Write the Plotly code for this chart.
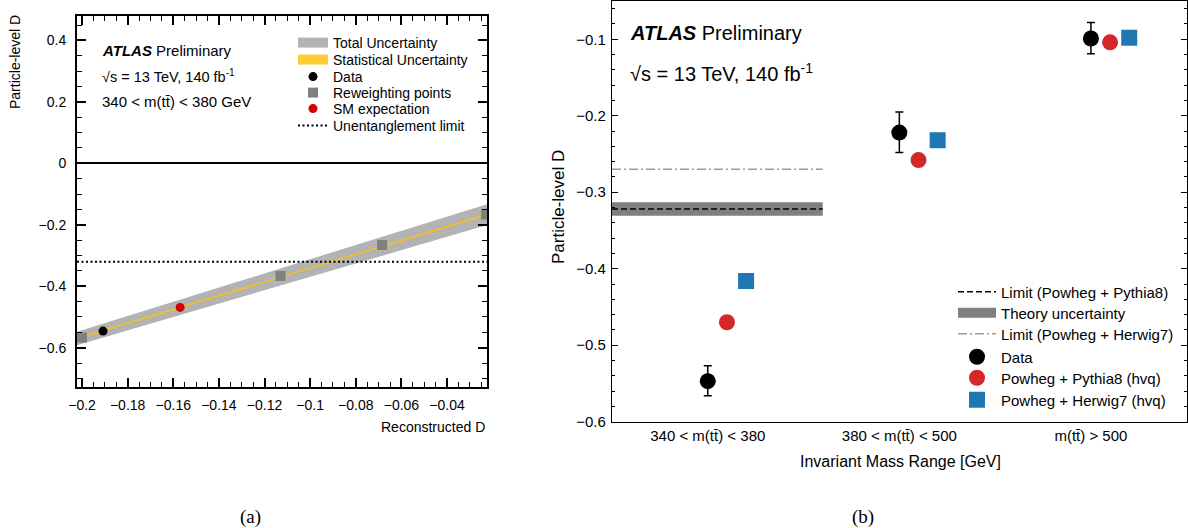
import plotly.graph_objects as go

W, H = 1188, 528

# ---------------- Data: panel (a) ----------------
rew_x = [-0.2, -0.113, -0.0685, -0.0229]
rew_y = [-0.567, -0.367, -0.266, -0.167]
data_a_x = [-0.1908]
data_a_y = [-0.546]
sm_x = [-0.157]
sm_y = [-0.469]
band_x = [-0.2022, -0.0225]
band_total_lo = [-0.592, -0.201]
band_total_hi = [-0.548, -0.133]
band_stat_lo = [-0.5725, -0.1695]
band_stat_hi = [-0.5675, -0.1645]
unent_limit = -0.32
xa_range = [-0.2022, -0.0225]
ya_range = [-0.729, 0.481]
xa_ticks = [-0.2, -0.18, -0.16, -0.14, -0.12, -0.1, -0.08, -0.06, -0.04]
xa_ticktext = ["\u22120.2", "\u22120.18", "\u22120.16", "\u22120.14", "\u22120.12",
               "\u22120.1", "\u22120.08", "\u22120.06", "\u22120.04"]
ya_ticks = [-0.6, -0.4, -0.2, 0, 0.2, 0.4]
ya_ticktext = ["\u22120.6", "\u22120.4", "\u22120.2", "0", "0.2", "0.4"]

# ---------------- Data: panel (b) ----------------
categories = ["340 < m(t\u0074\u0304) < 380", "380 < m(t\u0074\u0304) < 500", "m(t\u0074\u0304) > 500"]
cat_pos = [0, 1, 2]
data_b = [-0.547, -0.222, -0.099]
data_b_err_up = [0.020, 0.027, 0.021]
data_b_err_dn = [0.019, 0.026, 0.020]
pythia_b = [-0.470, -0.258, -0.104]
herwig_b = [-0.416, -0.232, -0.098]
limit_pythia = -0.322
theory_unc = 0.0088
limit_herwig = -0.270
limit_x = [-0.5, 0.6]
yb_range = [-0.6, -0.05]
yb_ticks = [-0.6, -0.5, -0.4, -0.3, -0.2, -0.1]
yb_ticktext = ["\u22120.6", "\u22120.5", "\u22120.4", "\u22120.3", "\u22120.2", "\u22120.1"]

FONT = "Liberation Sans"

def px(x):
    return x / W

def py(y):
    return 1 - y / H

fig = go.Figure()

# ---------- panel (a) traces ----------
fig.add_trace(go.Scatter(
    x=band_x + band_x[::-1], y=band_total_lo + band_total_hi[::-1],
    fill="toself", fillcolor="#b3b3b3", line=dict(width=0), mode="lines",
    showlegend=False, hoverinfo="skip", xaxis="x", yaxis="y"))
fig.add_trace(go.Scatter(
    x=band_x + band_x[::-1], y=band_stat_lo + band_stat_hi[::-1],
    fill="toself", fillcolor="#f5c21b", line=dict(width=0), mode="lines",
    showlegend=False, hoverinfo="skip", xaxis="x", yaxis="y"))
fig.add_trace(go.Scatter(
    x=xa_range, y=[unent_limit, unent_limit], mode="lines",
    line=dict(color="black", width=2, dash="2px,2.5px"),
    name="Unentanglement limit", legend="legend6", xaxis="x", yaxis="y"))
fig.add_trace(go.Scatter(
    x=rew_x, y=rew_y, mode="markers",
    marker=dict(symbol="square", size=10, color="#808080"),
    name="Reweighting points", legend="legend4", xaxis="x", yaxis="y"))
fig.add_trace(go.Scatter(
    x=data_a_x, y=data_a_y, mode="markers",
    marker=dict(symbol="circle", size=9, color="black"),
    name="Data", legend="legend3", xaxis="x", yaxis="y"))
fig.add_trace(go.Scatter(
    x=sm_x, y=sm_y, mode="markers",
    marker=dict(symbol="circle", size=9, color="#d40000"),
    name="SM expectation", legend="legend5", xaxis="x", yaxis="y"))
# legend proxies for bands
fig.add_trace(go.Scatter(
    x=[None], y=[None], mode="lines", line=dict(color="#b3b3b3", width=12),
    name="Total Uncertainty", legend="legend", xaxis="x", yaxis="y"))
fig.add_trace(go.Scatter(
    x=[None], y=[None], mode="lines", line=dict(color="#ffcc33", width=12),
    name="Statistical Uncertainty", legend="legend2", xaxis="x", yaxis="y"))

# ---------- panel (b) traces ----------
fig.add_trace(go.Scatter(
    x=limit_x + limit_x[::-1],
    y=[limit_pythia - theory_unc] * 2 + [limit_pythia + theory_unc] * 2,
    fill="toself", fillcolor="#808080", line=dict(width=0), mode="lines",
    showlegend=False, hoverinfo="skip", xaxis="x2", yaxis="y2"))
fig.add_trace(go.Scatter(
    x=limit_x, y=[limit_pythia, limit_pythia], mode="lines",
    line=dict(color="black", width=1.5, dash="6px,3px"),
    name="Limit (Powheg + Pythia8)", legend="legend7", xaxis="x2", yaxis="y2"))
fig.add_trace(go.Scatter(
    x=[None], y=[None], mode="lines", line=dict(color="#808080", width=11),
    name="Theory uncertainty", legend="legend8", xaxis="x2", yaxis="y2"))
fig.add_trace(go.Scatter(
    x=limit_x, y=[limit_herwig, limit_herwig], mode="lines",
    line=dict(color="#999999", width=1.5, dash="9px,3px,2px,3px"),
    name="Limit (Powheg + Herwig7)", legend="legend9", xaxis="x2", yaxis="y2"))
fig.add_trace(go.Scatter(
    x=cat_pos, y=data_b, mode="markers",
    marker=dict(symbol="circle", size=16, color="black"),
    error_y=dict(type="data", array=data_b_err_up, arrayminus=data_b_err_dn,
                 color="black", thickness=1.5, width=4),
    name="Data", legend="legend10", xaxis="x2", yaxis="y2"))
fig.add_trace(go.Scatter(
    x=[c + 0.1 for c in cat_pos], y=pythia_b, mode="markers",
    marker=dict(symbol="circle", size=16, color="#d62728"),
    name="Powheg + Pythia8 (hvq)", legend="legend11", xaxis="x2", yaxis="y2"))
fig.add_trace(go.Scatter(
    x=[c + 0.2 for c in cat_pos], y=herwig_b, mode="markers",
    marker=dict(symbol="square", size=16, color="#1f77b4"),
    name="Powheg + Herwig7 (hvq)", legend="legend12", xaxis="x2", yaxis="y2"))

# ---------- legends (one per row for exact spacing) ----------
legends = {}
left_rows = [43, 60, 77, 93, 109, 126]
for i, yy in enumerate(left_rows):
    key = "legend" if i == 0 else f"legend{i+1}"
    legends[key] = dict(x=px(293), y=py(yy), xanchor="left", yanchor="middle",
                        bgcolor="rgba(0,0,0,0)", borderwidth=0,
                        font=dict(family=FONT, size=14, color="black"),
                        itemwidth=30, traceorder="normal")
right_rows = [292, 313, 334, 357, 378, 400]
for i, yy in enumerate(right_rows):
    key = f"legend{i+7}"
    legends[key] = dict(x=px(953), y=py(yy), xanchor="left", yanchor="middle",
                        bgcolor="rgba(0,0,0,0)", borderwidth=0,
                        font=dict(family=FONT, size=15, color="black"),
                        itemwidth=38, traceorder="normal")

axis_common = dict(showline=True, linecolor="black", mirror="allticks",
                   showgrid=False, ticks="inside", tickcolor="black",
                   automargin=False)

fig.update_layout(
    template="none",
    width=W, height=H,
    margin=dict(l=0, r=0, t=0, b=0, pad=0, autoexpand=False),
    paper_bgcolor="white", plot_bgcolor="white",
    font=dict(family=FONT, color="black"),
    showlegend=True,
    xaxis=dict(domain=[px(77), px(487)], range=xa_range, anchor="y",
               tickmode="array", tickvals=xa_ticks, ticktext=xa_ticktext,
               ticklen=9, tickwidth=1.5, linewidth=2, zeroline=False,
               ticklabelstandoff=4,
               tickfont=dict(size=14, family=FONT, color="black"),
               minor=dict(dtick=0.005, tick0=0, ticks="inside", ticklen=5,
                          tickwidth=1, tickcolor="black", showgrid=False),
               **axis_common),
    yaxis=dict(domain=[py(387.3), py(15.5)], range=ya_range, anchor="x",
               tickmode="array", tickvals=ya_ticks, ticktext=ya_ticktext,
               ticklen=9, tickwidth=1.5, linewidth=2,
               ticklabelstandoff=6,
               tickfont=dict(size=14, family=FONT, color="black"),
               minor=dict(dtick=0.05, tick0=0, ticks="inside", ticklen=5,
                          tickwidth=1, tickcolor="black", showgrid=False),
               zeroline=True, zerolinecolor="black", zerolinewidth=2,
               **axis_common),
    xaxis2=dict(domain=[px(612), px(1186.7)], range=[-0.5, 2.5], anchor="y2",
                tickmode="array", tickvals=cat_pos, ticktext=categories,
                ticks="", showline=True, linecolor="black", linewidth=1.3,
                mirror=True, showgrid=False, zeroline=False, automargin=False,
                ticklabelstandoff=0,
                tickfont=dict(size=15, family=FONT, color="black")),
    yaxis2=dict(domain=[py(421.7), py(1)], range=yb_range, anchor="x2",
                tickmode="array", tickvals=yb_ticks, ticktext=yb_ticktext,
                ticklen=6, tickwidth=1.3, linewidth=1.3, zeroline=False,
                ticklabelstandoff=2,
                tickfont=dict(size=15, family=FONT, color="black"),
                minor=dict(dtick=0.02, tick0=0, ticks="inside", ticklen=3,
                           tickwidth=1, tickcolor="black", showgrid=False),
                **axis_common),
    **legends,
)

ann = [
    dict(x=px(102), y=py(51), text="<b><i>ATLAS</i></b> Preliminary", size=15),
    dict(x=px(102), y=py(76), text="\u221As = 13 TeV, 140 fb<sup>-1</sup>", size=14.5),
    dict(x=px(102), y=py(102), text="340 < m(t\u0074\u0304) < 380 GeV", size=15),
    dict(x=px(630), y=py(33), text="<b><i>ATLAS</i></b> Preliminary", size=20),
    dict(x=px(630), y=py(72), text="\u221As = 13 TeV, 140 fb<sup>-1</sup>", size=20),
]
annotations = []
for a in ann:
    annotations.append(dict(xref="paper", yref="paper", x=a["x"], y=a["y"],
                            text=a["text"], showarrow=False, xanchor="left",
                            yanchor="middle", borderpad=0, borderwidth=0,
                            font=dict(family=FONT, size=a["size"], color="black")))
# axis titles and panel labels
annotations += [
    dict(xref="paper", yref="paper", x=px(15), y=py(62), text="Particle-level D",
         textangle=-90, showarrow=False, xanchor="center", yanchor="middle",
         font=dict(family=FONT, size=14, color="black")),
    dict(xref="paper", yref="paper", x=px(487), y=py(427), text="Reconstructed D",
         showarrow=False, xanchor="right", yanchor="middle",
         font=dict(family=FONT, size=14, color="black")),
    dict(xref="paper", yref="paper", x=px(558), y=py(207), text="Particle-level D",
         textangle=-90, showarrow=False, xanchor="center", yanchor="middle",
         font=dict(family=FONT, size=17, color="black")),
    dict(xref="paper", yref="paper", x=px(900), y=py(461), text="Invariant Mass Range [GeV]",
         showarrow=False, xanchor="center", yanchor="middle",
         font=dict(family=FONT, size=16, color="black")),
    dict(xref="paper", yref="paper", x=px(250), y=py(517), text="(a)",
         showarrow=False, xanchor="center", yanchor="middle",
         font=dict(family="Liberation Serif", size=19, color="black")),
    dict(xref="paper", yref="paper", x=px(863), y=py(517), text="(b)",
         showarrow=False, xanchor="center", yanchor="middle",
         font=dict(family="Liberation Serif", size=19, color="black")),
]
fig.update_layout(annotations=annotations)

fig.write_html("out.html")
